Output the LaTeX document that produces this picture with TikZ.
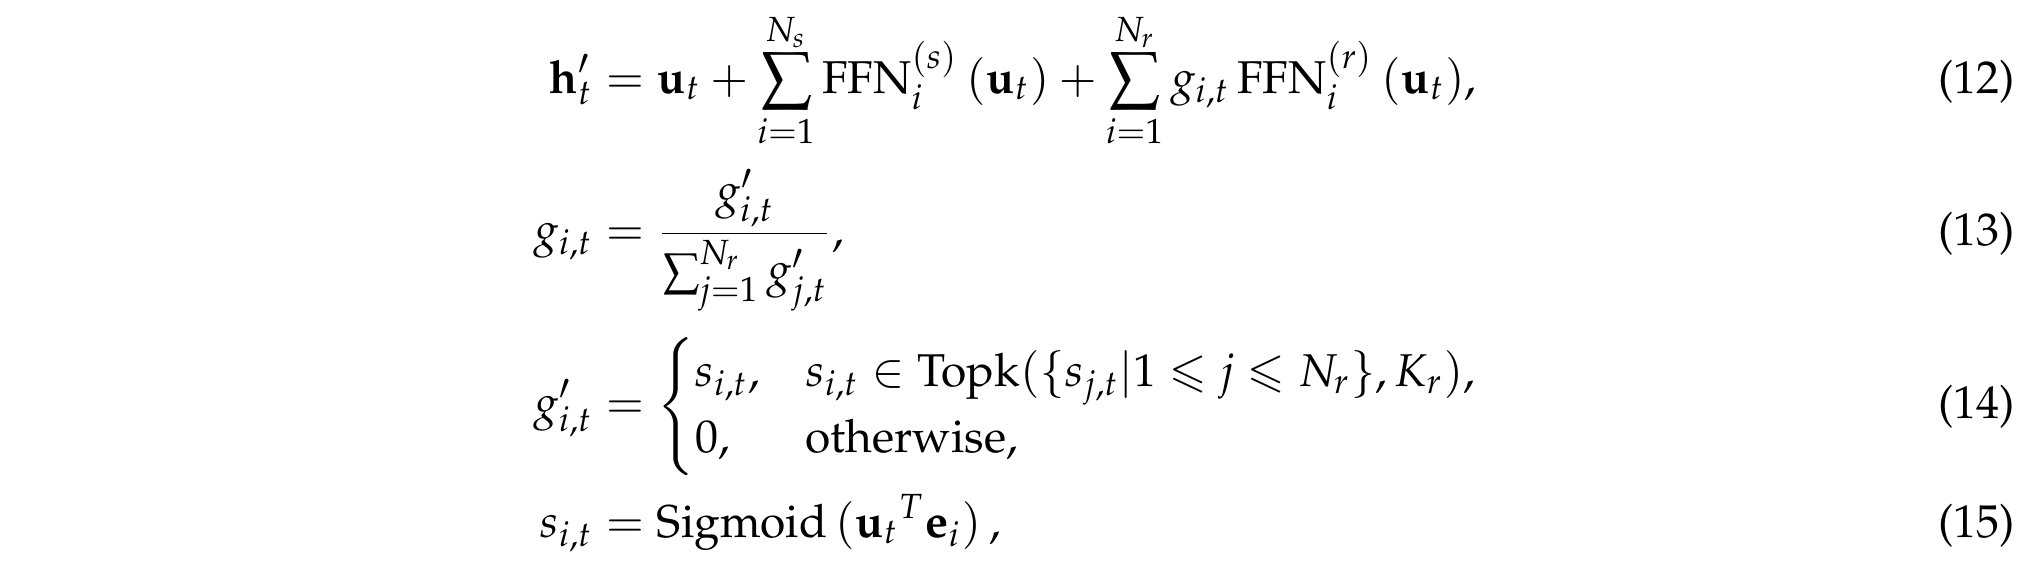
\documentclass[tikz,border=0pt]{standalone}
\usepackage[T1]{fontenc}
\usepackage{amsmath,amssymb}
\usepackage{mathpazo}
\begin{document}
\begin{tikzpicture}[x=0.2174pt,y=-0.2174pt,
  eq/.style={inner sep=0pt,outer sep=0pt},
  lhs/.style={eq,anchor=base east},
  rhs/.style={eq,anchor=base west},
  num/.style={eq,anchor=base east}]
\fill[white] (0,0) rectangle (2034,568);
\useasboundingbox (0,0) rectangle (2034,568);
% line 1
\node[lhs] (l1) at (593,93) {$\displaystyle \mathbf{h}'_t$};
\node[rhs] (r1) at (593,93) {$\displaystyle {}= \mathbf{u}_t + \sum_{i=1}^{N_s}\operatorname{FFN}^{(s)}_i\,(\mathbf{u}_t) + \sum_{i=1}^{N_r} g_{i,t}\operatorname{FFN}^{(r)}_i\,(\mathbf{u}_t),$};
\node[num] (n1) at (2015,93) {(12)};
% line 2
\node[lhs] (l2) at (593,245) {$\displaystyle g_{i,t}$};
\node[rhs] (r2) at (593,245) {$\displaystyle {}= \frac{g'_{i,t}}{\sum_{j=1}^{N_r} g'_{j,t}},$};
\node[num] (n2) at (2015,245) {(13)};
% line 3
\node[lhs] (l3) at (593,418) {$\displaystyle g'_{i,t}$};
\node[rhs] (r3) at (593,418) {$\displaystyle {}= \begin{cases} s_{i,t}, & s_{i,t}\in\operatorname{Topk}(\{s_{j,t}|1\leqslant j\leqslant N_r\},K_r),\\ 0, & \text{otherwise},\end{cases}$};
\node[num] (n3) at (2015,418) {(14)};
% line 4
\node[lhs] (l4) at (593,537) {$\displaystyle s_{i,t}$};
\node[rhs] (r4) at (593,537) {$\displaystyle {}= \operatorname{Sigmoid}\mathinner{({\mathbf{u}_t}^T\mathbf{e}_i)},$};
\node[num] (n4) at (2015,537) {(15)};
\end{tikzpicture}
\end{document}
